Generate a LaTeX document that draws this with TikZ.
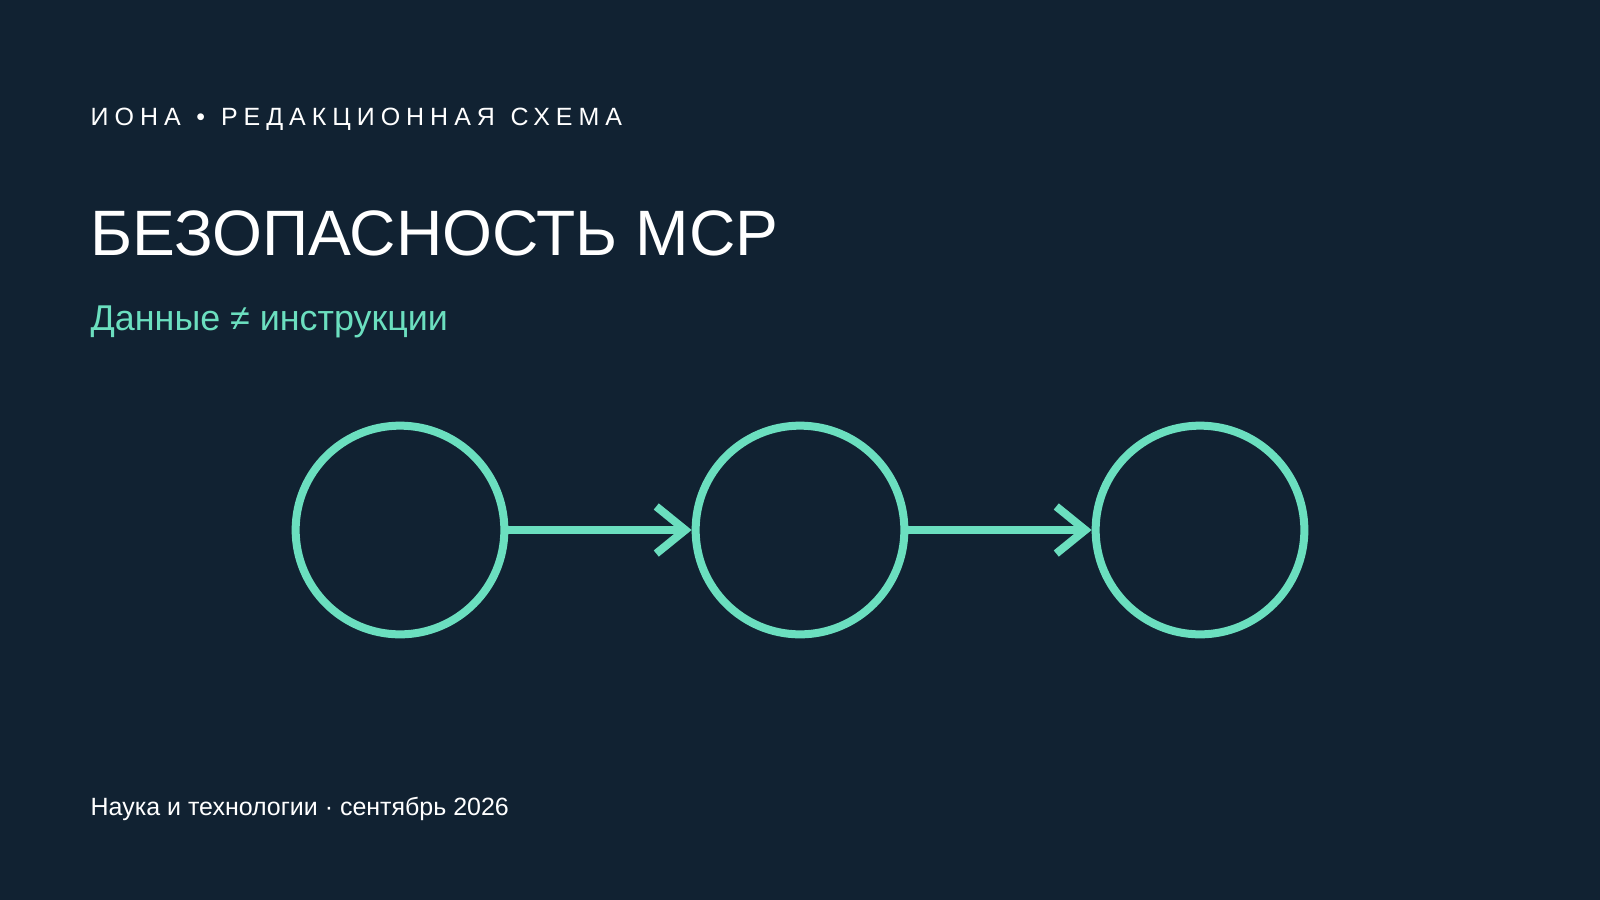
\documentclass[tikz,border=0pt]{standalone}
\usepackage{fontspec}
\setmainfont{Liberation Sans}
\newfontfamily\spacedfont[LetterSpace=24, WordSpace=1.22]{Liberation Sans}
\usetikzlibrary{arrows.meta}

\definecolor{bgnavy}{HTML}{112232}
\definecolor{mint}{HTML}{6BDFBF}

\tikzset{
    ring/.style={circle, draw=mint, line width=0.08cm, minimum size=2.086cm, inner sep=0pt},
    flow/.style={draw=mint, line width=0.08cm, -{Straight Barb[length=0.29cm, width=0.47cm, line cap=butt]}},
    label text/.style={anchor=base west, inner sep=0pt, text=white}
}

\begin{document}
\begin{tikzpicture}[x=0.01cm, y=-0.01cm]
        % Background of the slide
        \fill[bgnavy] (0,0) rectangle (1600,900);
        \useasboundingbox (0,0) rectangle (1600,900);

        % Header and titles
        \node[label text] (header) at (90,125) {\fontsize{7.1}{9}\selectfont\spacedfont ИОНА • РЕДАКЦИОННАЯ СХЕМА};
        \node[label text] (title) at (90,255) {\fontsize{18.25}{22}\selectfont БЕЗОПАСНОСТЬ MCP};
        \node[label text, text=mint] (subtitle) at (90,330) {\fontsize{10.2}{12}\selectfont Данные ≠ инструкции};

        % The three steps
        \foreach \i/\x in {1/400, 2/800, 3/1200} {
            \node[ring] (ring\i) at (\x,530) {};
        }

        % Connectors between steps
        \draw[flow] (ring1.east) -- (ring2.west);
        \draw[flow] (ring2.east) -- (ring3.west);

        % Footer
        \node[label text] (footer) at (90,815) {\fontsize{7.1}{9}\selectfont Наука и технологии · сентябрь 2026};
\end{tikzpicture}
\end{document}
